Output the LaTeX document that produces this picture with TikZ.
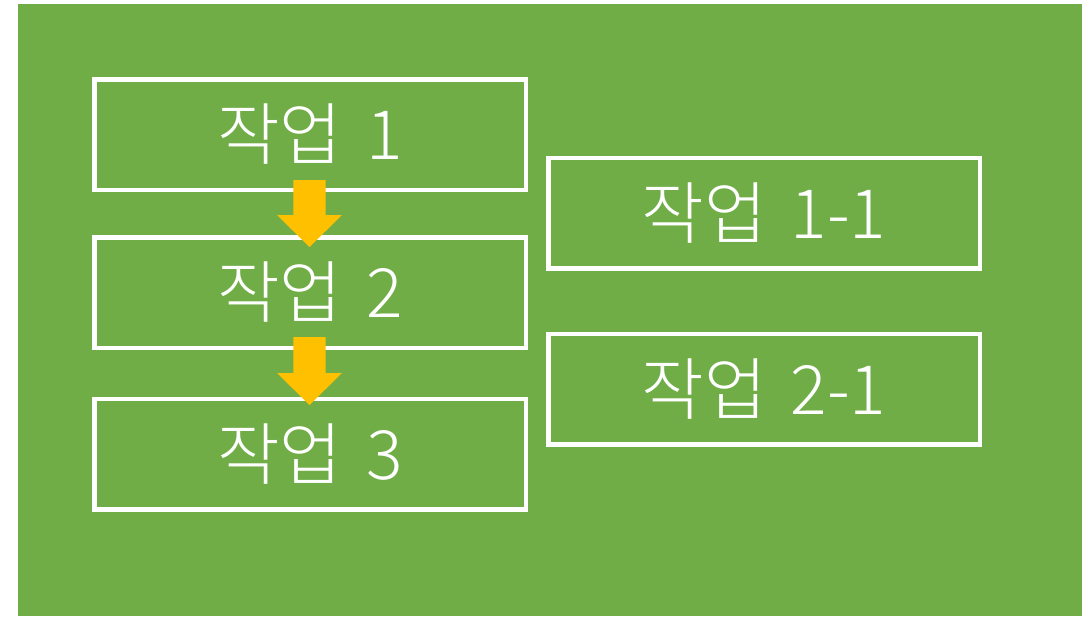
\documentclass[tikz,border=0pt]{standalone}
\usepackage{fontspec}
\setmainfont{Noto Sans CJK KR Light}
\definecolor{bggreen}{HTML}{70AD47}
\definecolor{arrowgold}{HTML}{FFC000}
\tikzset{
  taskbox/.style={draw=white, line width=4.5pt, minimum width=431.5pt, minimum height=110.5pt,
    inner sep=0pt, text=white, font=\fontsize{68}{74}\selectfont},
  blockarrow/.style={fill=arrowgold, draw=none}
}
\newcommand{\blockarr}[3]{% x, top, tip
  \fill[blockarrow] (#1-16.2,#2) -- (#1+16.2,#2) -- (#1+16.2,#3-32) -- (#1+32.5,#3-32)
    -- (#1,#3) -- (#1-32.5,#3-32) -- (#1-16.2,#3-32) -- cycle;}
\newcommand{\tsp}{\hspace{0.35em}}
\begin{document}
\begin{tikzpicture}[x=1pt,y=-1pt]
\useasboundingbox[fill=white] (0,0) rectangle (1082,616);
\fill[bggreen] (18,4) rectangle (1082,616);
\node[taskbox] (t1) at (310,134.5) {작업\tsp{}1};
\node[taskbox] (t2) at (310,292.5) {작업\tsp{}2};
\node[taskbox] (t3) at (310,454) {작업\tsp{}3};
\node[taskbox] (t11) at (764,213.25) {작업\tsp{}1-1};
\node[taskbox] (t21) at (764,389) {작업\tsp{}2-1};
\blockarr{309.5}{180}{247}
\blockarr{309.5}{337}{405}
\end{tikzpicture}
\end{document}
